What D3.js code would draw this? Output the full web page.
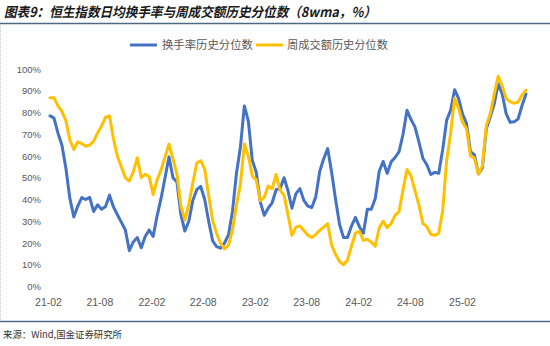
<!DOCTYPE html>
<html>
<head>
<meta charset="utf-8">
<script src="https://cdn.jsdelivr.net/npm/d3@7"></script>
<style>
  html, body { margin: 0; padding: 0; background: #fff; }
  svg { display: block; }
</style>
</head>
<body>
<svg id="chart" width="550" height="346"></svg>
<script>
// Chart text
const titleText = "图表9：恒生指数日均换手率与周成交额历史分位数（8wma，%）";
const sourceText = "来源：Wind,国金证券研究所";
const seriesNames = ["换手率历史分位数", "周成交额历史分位数"];
const seriesColors = ["#4472C4", "#FFC000"];

// Axis labels
const tickLabels = ["21-02", "21-08", "22-02", "22-08", "23-02", "23-08", "24-02", "24-08", "25-02"];
const yTicks = [0, 10, 20, 30, 40, 50, 60, 70, 80, 90, 100];

// Observations every two weeks, starting from this date
const firstWeek = "2021-02-08";
const stepDays = 14;

// Hang Seng Index: daily turnover rate, historical percentile (8wma, %)
const turnoverPct = [
  78.5, 77.4, 70.6, 65, 54.5, 40.5, 32, 37, 40.9, 40.0,
  41, 34.5, 37.6, 35.5, 36.8, 42, 36.6, 33, 29.5, 26,
  16.5, 20.5, 22.5, 17.8, 23, 26, 23, 32.5, 40.5, 50,
  59.6, 50, 48, 33, 25.5, 30, 39.5, 44.5, 46, 40,
  30, 21, 18.3, 17.6, 20, 23.8, 34.5, 52, 64, 83,
  76, 58, 52.5, 39, 32.7, 36, 38.5, 44.5, 45, 50,
  44, 36, 42.7, 45, 39.6, 37, 36.3, 41.2, 53, 58.7,
  63.4, 52.5, 40, 28.5, 22.5, 22.5, 27.8, 31.8, 27.5, 24.5,
  35.5, 35.5, 40.5, 53, 57.5, 52, 57.3, 59.3, 62, 70,
  81, 76.8, 73.4, 66.5, 59, 56, 51.5, 52.5, 52, 63,
  76.5, 81, 90.5, 86.5, 79.3, 75, 62, 60.6, 51.8, 54.5,
  72.5, 78, 84, 93.1, 88.5, 79.5, 75.5, 75.7, 77, 83.2, 88.5
];

// Hang Seng Index: weekly turnover value, historical percentile (8wma, %)
const volumePct = [
  86.8, 86.8, 83, 80.5, 76.2, 67.4, 63, 66.5, 65.7, 64.5,
  65, 66.8, 70.6, 73.8, 77.8, 78.4, 67.8, 59.8, 55, 50,
  48.5, 52.7, 59.2, 50.1, 51.6, 50.6, 42.3, 49, 53.6, 59.6,
  65.5, 58.8, 51.7, 37, 30.5, 37.8, 47.6, 56.8, 57.8, 54,
  42, 30.5, 24.4, 19.8, 17.3, 19, 26, 37.5, 47, 65.5,
  60, 50.8, 49, 39.4, 41, 46.2, 45, 51.5, 44.2, 42,
  33, 23.5, 27.3, 27.8, 25.7, 23.6, 22.5, 24, 25.8, 27.3,
  28.9, 19, 14.7, 11.5, 10, 12.2, 18.5, 24.5, 25.3, 21.2,
  21.7, 20.4, 18.5, 27, 30, 27, 29, 32.7, 34.5, 44.5,
  53.8, 51, 44.2, 37.5, 29, 27.5, 24, 23.5, 24.5, 35,
  58, 70.5, 86.5, 82, 75.5, 72.5, 60, 59, 51.7, 55.5,
  74, 79.5, 88.5, 96.7, 92.2, 86.4, 85, 84.2, 84.8, 88, 90.3
];

const svg = d3.select("#chart");
const labelFont = "'Liberation Sans', Arial, sans-serif";
const cjkFont = "'Noto Sans CJK SC', sans-serif";

const start = d3.utcParse("%Y-%m-%d")(firstWeek);
const dates = turnoverPct.map((_, i) => d3.utcDay.offset(start, stepDays * i));
const tickDates = tickLabels.map(d3.utcParse("%y-%m"));

const x = d3.scaleUtc()
  .domain([start, dates[dates.length - 1]])
  .range([50, 526]);
const y = d3.scaleLinear().domain([0, 100]).range([286.5, 69]);

// Title and frame rules
svg.append("text")
  .attr("x", 4).attr("y", 17)
  .attr("font-family", cjkFont)
  .attr("font-size", 13.5)
  .attr("font-weight", "bold")
  .attr("font-style", "italic")
  .attr("fill", "#1a1a1a")
  .attr("textLength", 372)
  .attr("lengthAdjust", "spacingAndGlyphs")
  .text(titleText);

svg.append("line")
  .attr("x1", 0).attr("x2", 550).attr("y1", 23.5).attr("y2", 23.5)
  .attr("stroke", "#4d6a85").attr("stroke-width", 1.5);

svg.append("line")
  .attr("x1", 0).attr("x2", 550).attr("y1", 321.5).attr("y2", 321.5)
  .attr("stroke", "#4d6a85").attr("stroke-width", 1.5);

svg.append("line")
  .attr("x1", 0.5).attr("x2", 0.5).attr("y1", 25).attr("y2", 320.5)
  .attr("stroke", "#c8c8c8").attr("stroke-width", 1)
  .attr("stroke-dasharray", "1,1");

svg.append("text")
  .attr("x", 3).attr("y", 338)
  .attr("font-family", cjkFont)
  .attr("font-size", 9.5)
  .attr("fill", "#333")
  .attr("textLength", 119)
  .attr("lengthAdjust", "spacingAndGlyphs")
  .text(sourceText);

// Y axis
const yAxis = d3.axisLeft(y)
  .tickValues(yTicks)
  .tickFormat(d => d + "%")
  .tickSize(0)
  .tickPadding(4);
svg.append("g")
  .attr("transform", "translate(45,0)")
  .call(yAxis)
  .call(g => g.select(".domain").remove())
  .call(g => g.selectAll("text")
    .attr("font-family", labelFont)
    .attr("font-size", 9.5)
    .attr("fill", "#595959"));

// X axis
const xAxis = d3.axisBottom(x)
  .tickValues(tickDates)
  .tickFormat((d, i) => tickLabels[i])
  .tickSize(0)
  .tickPadding(12);
svg.append("g")
  .attr("transform", "translate(0,286.5)")
  .call(xAxis)
  .call(g => g.select(".domain").remove())
  .call(g => g.selectAll("text")
    .attr("font-family", labelFont)
    .attr("font-size", 10.5)
    .attr("fill", "#595959"));

// Series lines
const line = d3.line()
  .x((d, i) => x(dates[i]))
  .y(d => y(d));

[turnoverPct, volumePct].forEach((values, k) => {
  svg.append("path")
    .datum(values)
    .attr("fill", "none")
    .attr("stroke", seriesColors[k])
    .attr("stroke-width", 3)
    .attr("stroke-linejoin", "round")
    .attr("stroke-linecap", "round")
    .attr("d", line);
});

// Legend
const legendItems = [
  { name: seriesNames[0], color: seriesColors[0], x0: 130, tx: 162, len: 91 },
  { name: seriesNames[1], color: seriesColors[1], x0: 256, tx: 287, len: 101 }
];
const legend = svg.append("g");
legendItems.forEach(item => {
  legend.append("line")
    .attr("x1", item.x0).attr("x2", item.x0 + 27)
    .attr("y1", 45).attr("y2", 45)
    .attr("stroke", item.color).attr("stroke-width", 3);
  legend.append("text")
    .attr("x", item.tx).attr("y", 45)
    .attr("dy", "0.35em")
    .attr("font-family", cjkFont)
    .attr("font-size", 11)
    .attr("fill", "#595959")
    .attr("textLength", item.len)
    .attr("lengthAdjust", "spacingAndGlyphs")
    .text(item.name);
});
</script>
</body>
</html>
